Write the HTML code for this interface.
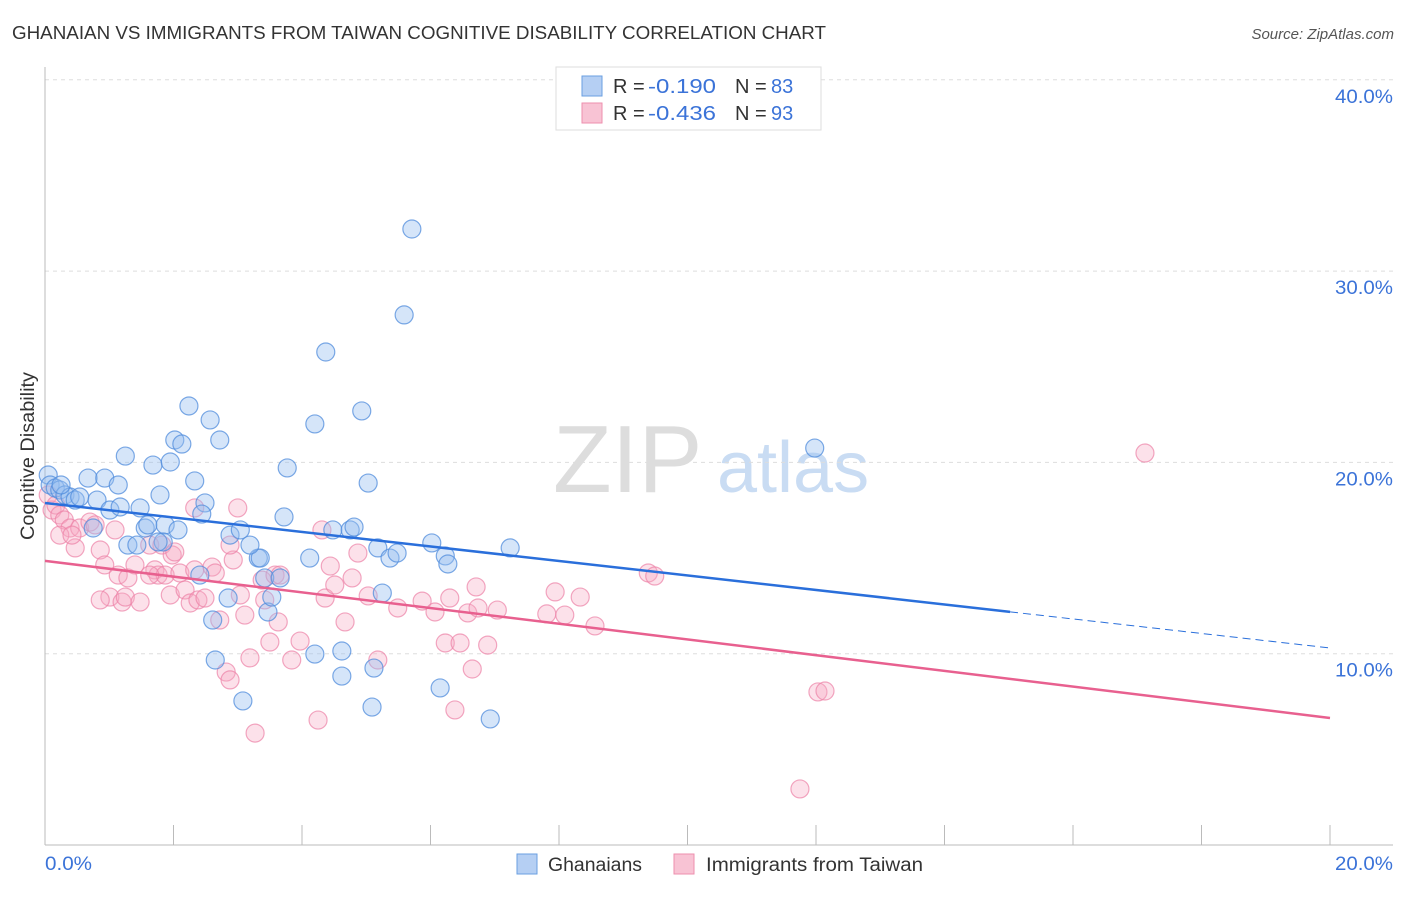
<!DOCTYPE html>
<html><head><meta charset="utf-8"><style>
body{margin:0;background:#fff;font-family:"Liberation Sans",sans-serif}
svg text{font-family:"Liberation Sans",sans-serif}
</style></head><body>
<svg id="chart" width="1406" height="892" viewBox="0 0 1406 892">
<text x="12" y="39" font-size="18" fill="#333" textLength="814" lengthAdjust="spacingAndGlyphs">GHANAIAN VS IMMIGRANTS FROM TAIWAN COGNITIVE DISABILITY CORRELATION CHART</text>
<text x="1394" y="39" font-size="15" fill="#555" text-anchor="end" font-style="italic">Source: ZipAtlas.com</text>
<g>
<text x="553" y="492" font-size="96" fill="#ddd" font-family="Liberation Serif,serif">ZIP</text>
<text x="717" y="492" font-size="72" fill="#c9dcf3">atlas</text>
</g>
<g id="grid"></g><g id="axes"></g><g id="marks"></g>
<text transform="translate(34,456) rotate(-90)" font-size="19" fill="#333" text-anchor="middle" textLength="168" lengthAdjust="spacingAndGlyphs">Cognitive Disability</text>
<text x="45" y="870" font-size="19" fill="#3b73d8" textLength="47" lengthAdjust="spacingAndGlyphs">0.0%</text>
<text x="1335" y="870" font-size="19" fill="#3b73d8" textLength="58" lengthAdjust="spacingAndGlyphs">20.0%</text>
<g>
<rect x="556" y="67" width="265" height="63" fill="#fff" stroke="#ddd"/>
<rect x="582" y="76" width="20" height="20" fill="#b5cff3" stroke="#6a9fe0"/>
<rect x="582" y="103" width="20" height="20" fill="#f8c3d4" stroke="#ee8fae"/>
<text x="613" y="93" font-size="20" fill="#333">R = <tspan x="648" fill="#3b73d8" textLength="68" lengthAdjust="spacingAndGlyphs">-0.190</tspan><tspan x="735">N = </tspan><tspan x="771" fill="#3b73d8">83</tspan></text>
<text x="613" y="120" font-size="20" fill="#333">R = <tspan x="648" fill="#3b73d8" textLength="68" lengthAdjust="spacingAndGlyphs">-0.436</tspan><tspan x="735">N = </tspan><tspan x="771" fill="#3b73d8">93</tspan></text>
</g>
<g>
<rect x="517" y="854" width="20" height="20" fill="#b5cff3" stroke="#6a9fe0"/>
<text x="548" y="871" font-size="19" fill="#333" textLength="94" lengthAdjust="spacingAndGlyphs">Ghanaians</text>
<rect x="674" y="854" width="20" height="20" fill="#f8c3d4" stroke="#ee8fae"/>
<text x="706" y="871" font-size="19" fill="#333" textLength="217" lengthAdjust="spacingAndGlyphs">Immigrants from Taiwan</text>
</g>
</svg>
<script>
const yTicks=[10,20,30,40];
const yTickLabels=["10.0%","20.0%","30.0%","40.0%"];
const xTicks=[0,2,4,6,8,10,12,14,16,18,20];
const blueX=[.05,.08,.16,.23,.31,.39,.47,.54,.67,.81,.93,1.14,1.25,1.01,1.17,1.48,1.29,1.56,1.60,1.79,1.68,1.87,1.84,1.95,2.02,2.13,2.07,2.24,2.33,2.49,2.57,2.72,2.41,2.61,2.65,2.85,2.88,3.04,3.08,3.32,3.35,3.42,3.47,3.53,3.66,3.77,3.72,4.12,4.20,4.20,4.37,4.48,4.62,4.62,4.75,4.81,4.93,5.03,5.09,5.12,5.18,5.25,5.37,5.48,5.59,5.71,6.02,6.15,6.23,6.27,6.93,7.24,11.98,2.44,3.19,.75,1.43,1.76,.25];
const blueY=[19.34,18.82,18.66,18.56,18.30,18.19,18.03,18.19,19.18,18.03,19.18,18.82,20.33,17.51,17.67,17.62,15.68,16.57,16.73,18.30,19.86,16.73,15.84,20.02,21.17,20.96,16.47,22.95,19.03,17.88,22.22,21.17,14.11,11.76,9.67,12.91,16.20,16.47,7.53,15.00,15.00,13.96,12.18,12.96,13.96,19.71,17.15,15.00,9.98,22.01,25.77,16.47,8.83,10.14,16.47,16.62,22.69,18.92,7.21,9.25,15.53,13.17,15.00,15.26,27.71,32.20,15.79,8.21,15.11,14.69,6.59,15.53,20.75,17.30,15.68,16.57,15.68,15.84,18.82];
const pinkX=[.05,.11,.17,.23,.30,.39,.47,.54,.70,.78,.86,.93,1.01,1.09,1.14,1.20,1.25,1.29,1.40,1.48,1.63,1.71,1.76,1.82,1.87,1.95,1.98,2.02,2.10,2.18,2.26,2.33,2.38,2.49,2.60,2.65,2.72,2.82,2.88,2.93,3.00,3.04,3.11,3.19,3.27,3.38,3.42,3.50,3.58,3.63,3.66,3.84,3.97,4.25,4.31,4.36,4.44,4.51,4.67,4.78,4.87,5.03,5.18,5.49,5.87,6.07,6.23,6.30,6.46,6.58,6.65,6.71,6.74,6.89,7.04,7.81,7.94,8.09,8.33,8.56,9.39,9.49,11.75,12.03,12.14,17.12,1.63,.86,.23,.42,2.88,2.33,6.38];
const pinkY=[18.30,17.51,17.77,17.25,16.99,16.57,15.53,16.57,16.88,16.73,15.42,14.64,12.96,16.47,14.11,12.70,12.96,13.96,14.64,12.70,15.68,14.38,14.11,15.68,14.11,13.07,15.16,15.32,14.22,13.33,12.65,17.62,12.81,12.91,14.53,14.22,11.76,9.04,8.63,14.90,17.62,13.07,12.02,9.78,5.85,13.85,12.81,10.61,14.11,11.66,14.11,9.67,10.66,6.53,16.47,12.91,14.58,13.59,11.66,13.96,15.26,13.02,9.67,12.39,12.75,12.18,10.56,12.91,10.56,12.13,9.20,13.49,12.39,10.45,12.28,12.08,13.23,12.02,12.96,11.45,14.22,14.06,2.93,8.00,8.05,20.49,14.11,12.81,16.20,16.20,15.68,14.38,7.06];
const blueTrend=[17.88,10.30];
const pinkTrend=[14.85,6.64];
const blueSolidEnd=15.02;

const NS="http://www.w3.org/2000/svg";
const xs=v=>45+v/20*1285;
const ys=v=>845-v*19.13;
function mk(tag,attrs,parent){const e=document.createElementNS(NS,tag);for(const k in attrs)e.setAttribute(k,attrs[k]);document.getElementById(parent).appendChild(e);return e;}
yTicks.forEach((t,i)=>{
 const g=mk('line',{x1:45,x2:1393,y1:ys(t),y2:ys(t),stroke:'#ddd','stroke-dasharray':'4,4'},'grid');
 
 
 const l=mk('text',{x:1335,y:ys(t)+23,'font-size':19,fill:'#3b73d8',textLength:58,lengthAdjust:'spacingAndGlyphs'},'grid');
 l.textContent=yTickLabels[i];
 
 
});
const ax=mk('line',{x1:45,x2:45,y1:67,y2:845,stroke:'#bbb'},'axes');


const bx=mk('line',{x1:45,x2:1393,y1:845,y2:845,stroke:'#bbb'},'axes');


xTicks.forEach(t=>{
 const e=mk('line',{x1:xs(t),x2:xs(t),y1:825,y2:845,stroke:'#bbb'},'axes');
 
 
});
function dots(X,Y,fill,stroke,name){X.forEach((x,i)=>{
 const c=mk('circle',{cx:xs(x),cy:ys(Y[i]),r:9,fill:fill,stroke:stroke,'stroke-width':1.2},'marks');
 
 
});}
dots(pinkX,pinkY,'rgba(246,168,194,0.35)','rgba(236,130,166,0.7)','taiwan-point');
dots(blueX,blueY,'rgba(150,190,240,0.4)','rgba(80,140,220,0.75)','ghanaian-point');
const bl=blueTrend;
const yAt=x=>bl[0]+(bl[1]-bl[0])*x/20;
const t1=mk('line',{x1:xs(0),y1:ys(bl[0]),x2:xs(blueSolidEnd),y2:ys(yAt(blueSolidEnd)),stroke:'#2a6fdb','stroke-width':2.5},'marks');


const t2=mk('line',{x1:xs(blueSolidEnd),y1:ys(yAt(blueSolidEnd)),x2:xs(20),y2:ys(bl[1]),stroke:'#2a6fdb','stroke-width':1,'stroke-dasharray':'8,5'},'marks');


const t3=mk('line',{x1:xs(0),y1:ys(pinkTrend[0]),x2:xs(20),y2:ys(pinkTrend[1]),stroke:'#e8608f','stroke-width':2.5},'marks');


</script>
</body></html>
